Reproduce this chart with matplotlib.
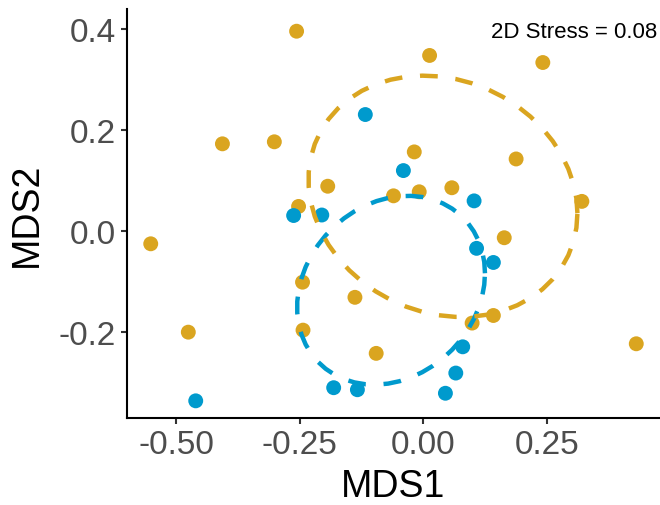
import numpy as np
import matplotlib
matplotlib.use("Agg")
import matplotlib.pyplot as plt

plt.rcParams['font.family'] = ['Liberation Sans', 'DejaVu Sans']

# ---- data ----
orange_x = [-0.256, -0.406, -0.301, -0.193, -0.252, 0.013, 0.242, -0.018, 0.188,
            -0.060, -0.008, 0.058, 0.321, -0.551, -0.475, -0.244, -0.243, -0.138,
            -0.095, 0.164, 0.142, 0.099, 0.431]
orange_y = [0.395, 0.172, 0.176, 0.088, 0.048, 0.347, 0.333, 0.156, 0.142,
            0.069, 0.077, 0.085, 0.058, -0.026, -0.201, -0.102, -0.197, -0.132,
            -0.243, -0.014, -0.168, -0.183, -0.224]
blue_x = [-0.117, -0.262, -0.205, -0.040, 0.103, -0.460, -0.181, -0.133, 0.108,
          0.142, 0.080, 0.066, 0.045]
blue_y = [0.230, 0.030, 0.031, 0.119, 0.059, -0.337, -0.311, -0.315, -0.035,
          -0.063, -0.230, -0.282, -0.322]

# ellipse summaries: [orange, blue]
ellipse_center_x = [0.040, -0.065]
ellipse_center_y = [0.068, -0.118]
ellipse_half_x = [0.272, 0.190]
ellipse_half_y = [0.239, 0.187]
ellipse_rho = [-0.14, 0.18]

x_ticks = [-0.50, -0.25, 0.00, 0.25]
x_ticklabels = ["-0.50", "-0.25", "0.00", "0.25"]
y_ticks = [-0.2, 0.0, 0.2, 0.4]
y_ticklabels = ["-0.2", "0.0", "0.2", "0.4"]
stress_label = "2D Stress = 0.08"

ORANGE = "#DAA520"
BLUE = "#009ACD"


def ellipse_path(cx, cy, hx, hy, rho, segments=51):
    cov = np.array([[hx * hx, rho * hx * hy], [rho * hx * hy, hy * hy]])
    chol = np.linalg.cholesky(cov).T
    ang = np.arange(segments + 1) * 2 * np.pi / segments
    unit = np.column_stack([np.cos(ang), np.sin(ang)])
    return np.array([cx, cy]) + unit @ chol


fig = plt.figure(figsize=(6.6, 5.06), dpi=100)
ax = fig.add_axes([127 / 660, 1 - 419 / 506, 1 - 127 / 660, 409 / 506])

ax.scatter(orange_x, orange_y, s=115, color=ORANGE, edgecolors='none', zorder=2)
ax.scatter(blue_x, blue_y, s=115, color=BLUE, edgecolors='none', zorder=3)

colors = [ORANGE, BLUE]
zorders = [5, 4]
for i in range(2):
    e = ellipse_path(ellipse_center_x[i], ellipse_center_y[i], ellipse_half_x[i],
                     ellipse_half_y[i], ellipse_rho[i])
    ax.plot(e[:, 0], e[:, 1], color=colors[i], lw=3.2, dashes=(4, 4),
            dash_capstyle='butt', zorder=zorders[i])

ax.set_xlim(-0.599, 0.479)
ax.set_ylim(-0.371, 0.439)
ax.set_xticks(x_ticks)
ax.set_xticklabels(x_ticklabels)
ax.set_yticks(y_ticks)
ax.set_yticklabels(y_ticklabels)

for s in ['top', 'right']:
    ax.spines[s].set_visible(False)
for s in ['left', 'bottom']:
    ax.spines[s].set_linewidth(1.5)
    ax.spines[s].set_color('black')

ax.tick_params(axis='both', length=4, width=1.5, color='#333333',
               labelsize=24, labelcolor='#4D4D4D', pad=4)
ax.set_xlabel("MDS1", fontsize=27, color='black', labelpad=6)
ax.set_ylabel("MDS2", fontsize=27, color='black', labelpad=10)

ax.text(0.473, 0.40, stress_label, fontsize=16, ha='right', va='center_baseline',
        color='black')

fig.savefig("out.png", dpi=100)
